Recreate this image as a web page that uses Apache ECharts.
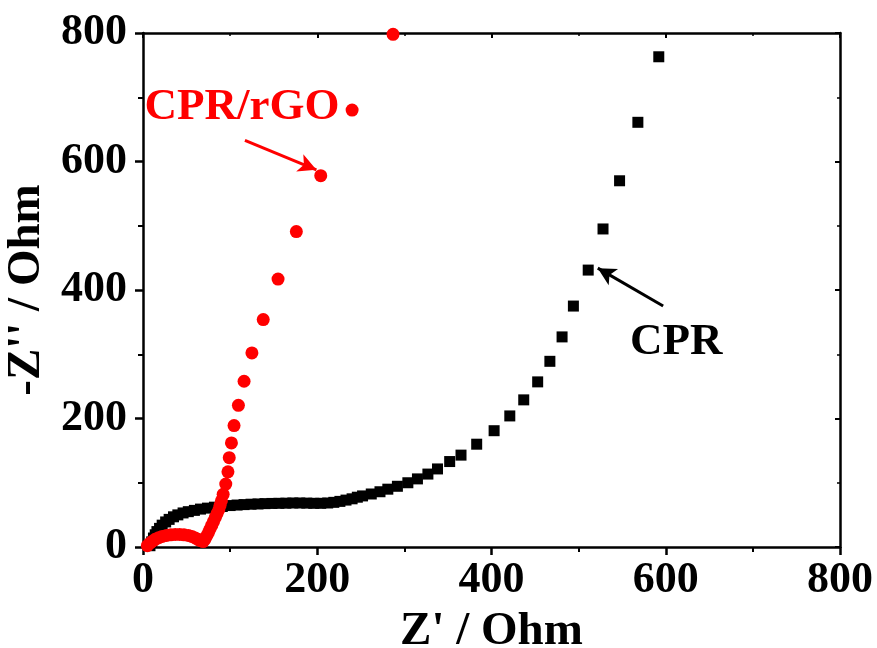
<!DOCTYPE html>
<html><head><meta charset="utf-8">
<script src="https://cdn.jsdelivr.net/npm/echarts@6/dist/echarts.min.js"></script>
<style>html,body{margin:0;padding:0;background:#fff}#c{width:877px;height:648px}</style>
</head><body><div id="c"></div>
<script>
// CPR (black squares)
const cprX = [8,10,12,14,16,19,22,26,30,35,40,46,52,59,66,74,82,91,100,108,116,124,132,140,148,156,164,172,180,188,196,204,212,219,226,233,240,246,252,262,272,281,292,304,315,327,338,352,365,383,403,421,437,453,467,481,494,511,528,547,568,592];
const cprY = [2,8,14,19,24,29,34,39,43,47,50,53,55,57,59,60.5,62,63,64.5,65.3,66,66.6,67,67.5,67.8,68,68.2,68.5,68.5,68.3,68,68,68.5,69.5,71,73,75,77.5,79.5,82.5,86,90,94.5,100,106,113.5,121.5,133,143,160,181,204,229,257,289,327,375,431,495,570,661,763];
// CPR/rGO (red circles)
const rgoX = [5,8,11,14,18,22,27,32,37,42,47,52,56,60,63,66,69,71,73,75,77,79,81,83,85,87,88.5,90,92,95,97.5,99,101.5,104.5,109.5,116,125,138,155,176,204,240,287];
const rgoY = [2,6,9,12,14.5,16.5,18,19,19.5,19.5,19,18,16.5,14,12,10,8.5,12,17,22,28,34,40,46,52,58,65,72,82,98,117,139,162,189,220.5,258,302,354,417,491,578,680,798];
const axisMin = 0, axisMax = 800, axisStep = 200;
const labelRGO = 'CPR/rGO', labelCPR = 'CPR';
const xTitle = "Z' / Ohm", yTitle = "-Z'' / Ohm";

const FONT = '"Liberation Serif", "Times New Roman", serif';
const zip = (a, b) => a.map((v, i) => [v, b[i]]);
const chart = echarts.init(document.getElementById('c'), null, {renderer: 'canvas'});
const lab = {fontFamily: FONT, fontWeight: 'bold', fontSize: 44, color: '#000'};
const mainAxis = (extra) => Object.assign({
  type: 'value', min: axisMin, max: axisMax, interval: axisStep,
  axisLine: {show: true, onZero: false, lineStyle: {color: '#000', width: 2.5}},
  axisTick: {show: true, length: 8, lineStyle: {color: '#000', width: 2.5}},
  minorTick: {show: true, splitNumber: 2, length: 5, lineStyle: {color: '#000', width: 2}},
  splitLine: {show: false},
  nameTextStyle: {fontFamily: FONT, fontWeight: 'bold', fontSize: 47, color: '#000'}
}, extra);
const sideAxis = (extra) => Object.assign({
  type: 'value', min: axisMin, max: axisMax, interval: axisStep,
  axisLine: {show: true, onZero: false, lineStyle: {color: '#000', width: 2.5}},
  axisTick: {show: true, inside: true, length: 5, lineStyle: {color: '#000', width: 2}},
  minorTick: {show: true, splitNumber: 2, length: 3, lineStyle: {color: '#000', width: 1.5}},
  axisLabel: {show: false}, splitLine: {show: false}
}, extra);

chart.setOption({
  animation: false,
  backgroundColor: '#fff',
  grid: {left: 143, right: 37, top: 33, bottom: 101, containLabel: false, outerBoundsMode: 'none'},
  xAxis: [
    mainAxis({position: 'bottom', name: xTitle, nameLocation: 'middle', nameGap: 59,
      axisLabel: Object.assign({margin: 12}, lab)}),
    sideAxis({position: 'top'})
  ],
  yAxis: [
    mainAxis({position: 'left', name: yTitle, nameLocation: 'middle', nameGap: 89, nameRotate: 90,
      axisLabel: Object.assign({margin: 16}, lab)}),
    sideAxis({position: 'right'})
  ],
  series: [
    {type: 'scatter', name: 'CPR', symbol: 'rect', symbolSize: 11, itemStyle: {color: '#000', opacity: 1},
     data: zip(cprX, cprY), z: 3,
     markLine: {silent: true, symbol: ['none', 'arrow'], symbolSize: [14, 18], label: {show: false},
       lineStyle: {color: '#000', width: 3, type: 'solid', opacity: 1},
       data: [[{coord: [597, 375]}, {coord: [522, 434]}]]}},
    {type: 'scatter', name: 'CPR/rGO', symbol: 'circle', symbolSize: 13, itemStyle: {color: '#ff0000', opacity: 1},
     data: zip(rgoX, rgoY), z: 4,
     markLine: {silent: true, symbol: ['none', 'arrow'], symbolSize: [14, 18], label: {show: false},
       lineStyle: {color: '#ff0000', width: 3, type: 'solid', opacity: 1},
       data: [[{coord: [117, 633]}, {coord: [199, 587]}]]}}
  ]
});

const p1 = chart.convertToPixel({gridIndex: 0}, [113.6, 685]);
const p2 = chart.convertToPixel({gridIndex: 0}, [612, 319]);
chart.setOption({
  graphic: [
    {type: 'text', x: p1[0], y: p1[1], z: 10,
     style: {text: labelRGO, fill: '#ff0000', font: 'bold 45px "Liberation Serif"', align: 'center', verticalAlign: 'middle'}},
    {type: 'text', x: p2[0], y: p2[1], z: 10,
     style: {text: labelCPR, fill: '#000', font: 'bold 45px "Liberation Serif"', align: 'center', verticalAlign: 'middle'}}
  ]
});
</script></body></html>
